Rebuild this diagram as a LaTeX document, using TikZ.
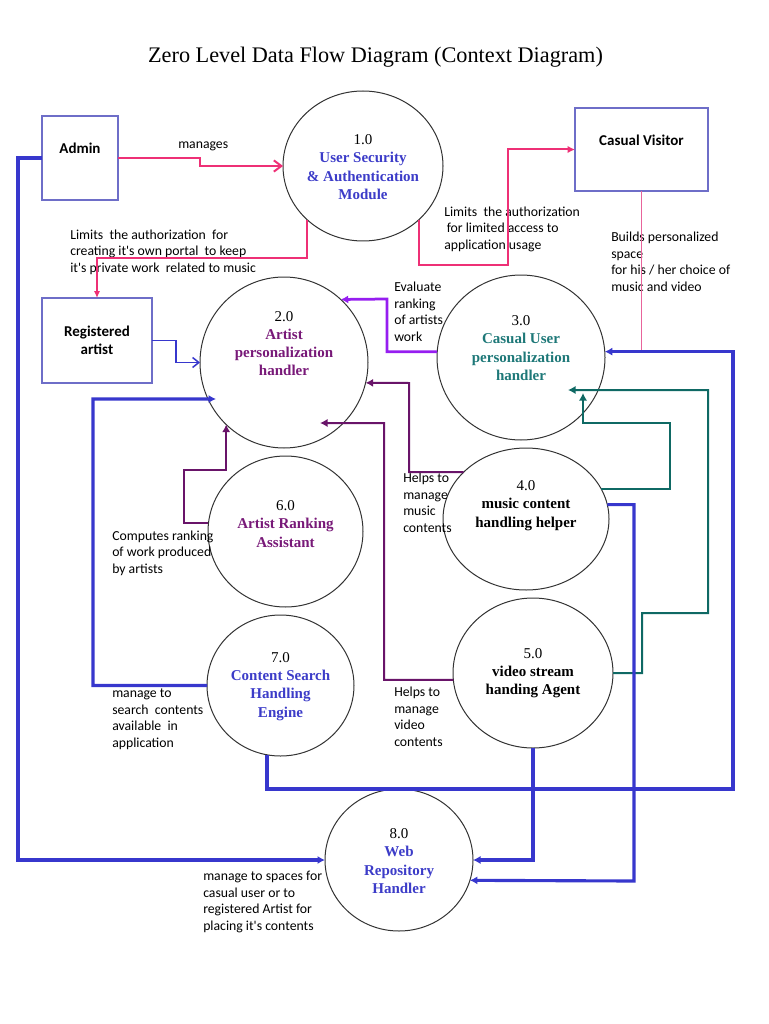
\documentclass[tikz,border=0pt]{standalone}
\usepackage{fontspec}
\setmainfont{Liberation Serif}
\newfontfamily\lblfont{Carlito}
\usetikzlibrary{calc,positioning,shapes.geometric,arrows.meta}

\definecolor{pinkc}{RGB}{238,48,118}
\definecolor{lpinkc}{RGB}{232,100,155}
\definecolor{bluec}{RGB}{55,55,205}
\definecolor{boxc}{RGB}{110,110,200}
\definecolor{violetc}{RGB}{150,30,240}
\definecolor{dpurple}{RGB}{105,20,105}
\definecolor{tealc}{RGB}{15,105,100}
\definecolor{bluetxt}{RGB}{60,60,200}
\definecolor{purpletxt}{RGB}{120,25,120}
\definecolor{tealtxt}{RGB}{30,120,120}

\newcommand{\pnum}[1]{{\mdseries\color{black}#1}}

\begin{document}
\begin{tikzpicture}[x=0.8pt,y=-0.8pt,
  proc/.style={draw=black!80, ellipse, line width=0.8pt, inner sep=0pt, outer sep=0pt},
  ptext/.style={align=center, inner sep=0pt, font=\fontsize{12}{14.6}\selectfont\bfseries},
  ext/.style={draw=boxc, line width=0.9pt, inner sep=0pt, outer sep=0pt, align=center,
    font=\lblfont\fontsize{12}{14.5}\selectfont\bfseries},
  lbl/.style={align=left, anchor=west, inner sep=0pt, font=\lblfont\fontsize{11}{13.2}\selectfont},
  tip/.style={-{Latex[length=6pt,width=6.5pt]}},
  pflow/.style={draw=pinkc, line width=1.6pt},
  bflow/.style={draw=bluec, line width=2.5pt, tip},
  dflow/.style={draw=dpurple, line width=1.6pt, tip},
  tflow/.style={draw=tealc, line width=1.6pt, tip},
  vflow/.style={draw=violetc, line width=2.2pt, tip}]
\useasboundingbox (0,0) rectangle (768,1024);

% title
\node[font=\fontsize{17.8}{21}\selectfont] (title) at (375.5,57) {Zero Level Data Flow Diagram (Context Diagram)};

% external entities
\node[ext, minimum width=60.8pt, minimum height=67.2pt, text depth=16pt] (adm) at (80,158) {Admin};
\node[ext, minimum width=106.4pt, minimum height=66.4pt, text depth=15pt] (cas) at (641.5,149.5) {Casual Visitor};
\node[ext, minimum width=88pt, minimum height=68pt] (reg) at (97,340.5) {Registered\\artist};

% processes
\node[proc, minimum width=128pt, minimum height=120pt] (p1) at (363,166) {};
\node[proc, minimum width=134.4pt, minimum height=136.8pt] (p2) at (284,362.5) {};
\node[proc, minimum width=134.4pt, minimum height=132pt] (p3) at (521,357.5) {};
\node[proc, minimum width=132.8pt, minimum height=113.6pt] (p4) at (526,519) {};
\node[proc, minimum width=128pt, minimum height=120pt] (p5) at (533,673) {};
\node[proc, minimum width=124pt, minimum height=120.8pt] (p6) at (285.5,531.5) {};
\node[proc, minimum width=117.6pt, minimum height=112.8pt] (p7) at (280.5,685.5) {};
\node[proc, minimum width=118.4pt, minimum height=113.6pt] (p8) at (399,860) {};

\node[ptext, text=bluetxt] (t1) at (363,167) {\pnum{1.0}\\User Security\\\& Authentication\\Module};
\node[ptext, text=purpletxt] (t2) at (284,343.5) {\pnum{2.0}\\Artist\\personalization\\handler};
\node[ptext, text=tealtxt] (t3) at (521,348) {\pnum{3.0}\\Casual User\\personalization\\handler};
\node[ptext] (t4) at (526,505.5) {\pnum{4.0}\\music content\\handling helper};
\node[ptext] (t5) at (533,673) {\pnum{5.0}\\video stream\\handing Agent};
\node[ptext, text=purpletxt] (t6) at (285.5,524) {\pnum{6.0}\\Artist Ranking\\Assistant};
\node[ptext, text=bluetxt] (t7) at (280.5,686.5) {\pnum{7.0}\\Content Search\\Handling\\Engine};
\node[ptext, text=bluetxt] (t8) at (399,861) {\pnum{8.0}\\Web\\Repository\\Handler};

% flow labels
\node[lbl] (l1) at (178,146) {manages};
\node[lbl] (l2) at (70,252) {Limits\ \ the authorization\ \ for\\creating it's own portal\ \ to keep\\it's private work\ \ related to music};
\node[lbl] (l3) at (444,229) {Limits\ \ the authorization\\\hspace{2pt}for limited access to\\application usage};
\node[lbl] (l4) at (611,262) {Builds personalized\\space\\for his / her choice of\\music and video};
\node[lbl] (l5) at (394,312) {Evaluate\\ranking\\of artists\\work};
\node[lbl] (l6) at (403,503) {Helps to\\manage\\music\\contents};
\node[lbl] (l7) at (112,553) {Computes ranking\\of work produced\\by artists};
\node[lbl] (l8) at (112,719.5) {manage to\\search\ \ contents\\available\ \ in\\application};
\node[lbl] (l9) at (394,717) {Helps to\\manage\\video\\contents};
\node[lbl] (l10) at (203,902) {manage to spaces for\\casual user or to\\registered Artist for\\placing it's contents};

% pink flows from the security module
\draw[pflow, -{Straight Barb[length=6pt,width=9pt]}] (adm.east) -| (200,166) -- (p1.west);
\draw[pflow, -{Latex[length=5.5pt,width=5pt]}] (p1.224) |- (97,258) -- (reg.north);
\draw[pflow, -{Latex[length=6pt,width=6pt]}] (p1.316) |- (508,265) |- (cas.west);
\draw[draw=lpinkc, line width=1.5pt] (cas.south) -- (cas.south |- 0,351);

% flows into 2.0
\draw[vflow] (p3.176) -| (387,299) -- (p2.48);
\draw[draw=bluec, line width=1.2pt, -{Straight Barb[length=5pt,width=8pt]}] (reg.east) -| ($(p2.west)+(-24,0)$) -- (p2.west);
\draw[bflow] (p7.west) -| (93,399) -- ($(p2)+(-68,36.5)$);
\draw[dflow] (p6.174) -| (184,470) -| (p2.227);
\draw[dflow] (p4.143) -| (409,383) -- (p2.346);
\draw[dflow] (p5.185) -| (384,423) -- ($(p2)+(36,60.5)$);

% flows into 3.0
\draw[bflow] (p7.259) |- (733,789) |- (p3.4);
\draw[tflow] (p4.22) -| (670,423) -| ($(p3)+(62,35.5)$);
\draw[tflow] (p5.east) -| (642,613) -| (708,390) -- ($(p3)+(47,32.5)$);

% flows into 8.0
\draw[bflow] (p4.10) -| (634,881) -- (p8.344);
\draw[bflow] (p5.south) |- (p8.east);
\draw[bflow] (adm.west) -| (18,860) -- (p8.west);
\end{tikzpicture}
\end{document}
